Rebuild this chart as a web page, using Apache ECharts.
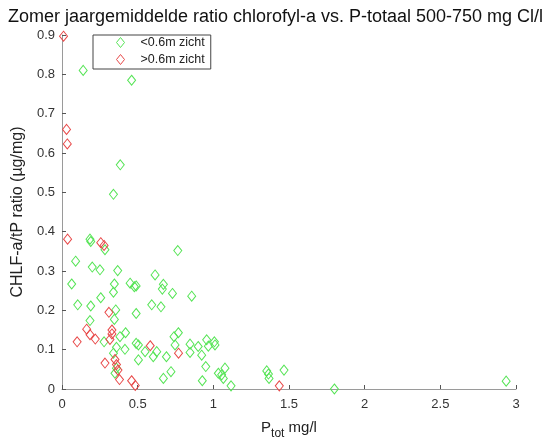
<!DOCTYPE html>
<html>
<head>
<meta charset="utf-8">
<script src="https://cdn.jsdelivr.net/npm/echarts@6/dist/echarts.min.js"></script>
<style>
html,body{margin:0;padding:0;background:#fff;}
#c{width:551px;height:437px;}
</style>
</head>
<body>
<div id="c"></div>
<script>
// ---- data ----
const titleText = 'Zomer jaargemiddelde ratio chlorofyl-a vs. P-totaal 500-750 mg Cl/l';
const seriesNames = ['<0.6m zicht', '>0.6m zicht'];
const xTicks = [0, 0.5, 1, 1.5, 2, 2.5, 3];
const yTicks = [0, 0.1, 0.2, 0.3, 0.4, 0.5, 0.6, 0.7, 0.8, 0.9];
const xLabel = 'P_tot mg/l';
const yLabel = 'CHLF-a/tP ratio (µg/mg)';

// <0.6m zicht : [Ptot, ratio]
const greenPts = [
  [0.14,0.81],[0.46,0.785],[0.385,0.57],[0.34,0.495],
  [0.185,0.381],[0.19,0.375],[0.284,0.354],[0.765,0.352],
  [0.09,0.325],[0.2,0.31],[0.251,0.303],[0.368,0.301],[0.615,0.29],
  [0.064,0.267],[0.346,0.267],[0.45,0.269],[0.478,0.26],[0.49,0.262],[0.67,0.266],[0.663,0.254],
  [0.73,0.243],[0.34,0.246],[0.857,0.236],[0.256,0.232],
  [0.104,0.214],[0.19,0.211],[0.355,0.201],[0.49,0.192],[0.593,0.214],[0.654,0.209],
  [0.185,0.174],[0.346,0.177],[0.42,0.143],[0.383,0.133],[0.278,0.12],[0.36,0.106],[0.416,0.101],
  [0.49,0.116],[0.505,0.112],[0.549,0.095],
  [0.74,0.133],[0.769,0.143],[0.603,0.082],[0.626,0.095],[0.69,0.082],[0.747,0.112],[0.846,0.114],
  [0.846,0.093],[0.9,0.108],[0.923,0.086],[0.956,0.125],[0.967,0.109],[1.007,0.12],[1.011,0.112],
  [0.34,0.091],[0.36,0.053],[0.35,0.04],[0.505,0.074],[0.67,0.027],[0.72,0.044],[0.95,0.057],
  [0.927,0.021],[1.033,0.04],[1.077,0.053],[1.055,0.036],[1.066,0.027],[1.117,0.008],
  [1.353,0.046],[1.364,0.038],[1.368,0.027],[1.467,0.048],[1.8,0.0],[2.935,0.02]
];
// >0.6m zicht : [Ptot, ratio]
const redPts = [
  [0.01,0.897],[0.03,0.66],[0.035,0.623],[0.037,0.381],[0.256,0.372],[0.278,0.365],
  [0.31,0.195],[0.33,0.15],[0.33,0.14],[0.163,0.152],[0.185,0.138],[0.22,0.127],[0.1,0.12],
  [0.317,0.126],[0.284,0.066],[0.35,0.075],[0.36,0.062],[0.37,0.048],[0.38,0.024],
  [0.46,0.021],[0.484,0.009],[0.583,0.11],[0.77,0.091],[1.436,0.008]
];

// ---- chart ----
const chart = echarts.init(document.getElementById('c'), null, {renderer:'canvas'});
const axisCol = '#9a9a9a';
const labCol = '#333';
const font = 'Liberation Sans, Arial, Helvetica, sans-serif';
const xParts = xLabel.split('_');
const sub = xParts[1].split(' ');

chart.setOption({
  animation: false,
  backgroundColor: '#fff',
  textStyle: {fontFamily: font},
  title: {
    text: titleText,
    left: 'center',
    top: 3,
    textStyle: {fontSize: 18, fontWeight: 'normal', color: '#111', fontFamily: font}
  },
  legend: {
    orient: 'vertical',
    left: 93,
    top: 35,
    padding: [0, 6, 2, 21],
    itemGap: 2,
    itemWidth: 8,
    itemHeight: 10,
    borderColor: '#444',
    borderWidth: 1,
    backgroundColor: '#fff',
    textStyle: {fontSize: 12.5, color: '#222', padding: [0, 0, 0, 11], lineHeight: 14},
    data: [
      {name: seriesNames[0], icon: 'diamond', itemStyle: {color: 'none', borderColor: '#55e455', borderWidth: 1}},
      {name: seriesNames[1], icon: 'diamond', itemStyle: {color: 'none', borderColor: '#e84848', borderWidth: 1}}
    ]
  },
  grid: {left: 62, right: 35, top: 35, bottom: 48, containLabel: false, outerBoundsMode: 'none'},
  xAxis: {
    type: 'value',
    min: xTicks[0],
    max: xTicks[xTicks.length - 1],
    interval: xTicks[1] - xTicks[0],
    name: '{p|' + xParts[0] + '}{s|' + sub[0] + '}{p| ' + sub.slice(1).join(' ') + '}',
    nameLocation: 'middle',
    nameGap: 26,
    nameTextStyle: {
      rich: {
        p: {fontSize: 15, color: '#222', fontFamily: font},
        s: {fontSize: 12, color: '#222', fontFamily: font, padding: [13, 0, 0, 0]}
      }
    },
    axisLine: {show: true, onZero: false, lineStyle: {color: axisCol, width: 1}},
    axisTick: {show: true, inside: true, length: 4, lineStyle: {color: '#555'}},
    axisLabel: {fontSize: 13, color: labCol, margin: 9},
    splitLine: {show: false}
  },
  yAxis: {
    type: 'value',
    min: yTicks[0],
    max: yTicks[yTicks.length - 1],
    interval: 0.1,
    name: yLabel,
    nameLocation: 'middle',
    nameGap: 31,
    nameTextStyle: {fontSize: 16, color: '#222'},
    axisLine: {show: true, onZero: false, lineStyle: {color: axisCol, width: 1}},
    axisTick: {show: true, inside: true, length: 4, lineStyle: {color: '#555'}},
    axisLabel: {fontSize: 13, color: labCol, margin: 7,
      formatter: v => (Math.round(v * 10) / 10).toString()},
    splitLine: {show: false}
  },
  series: [
    {
      name: seriesNames[0],
      type: 'scatter',
      symbol: 'diamond',
      symbolSize: [8, 10],
      itemStyle: {color: 'none', borderColor: '#55e455', borderWidth: 1, opacity: 1},
      data: greenPts,
      z: 2
    },
    {
      name: seriesNames[1],
      type: 'scatter',
      symbol: 'diamond',
      symbolSize: [8, 10],
      itemStyle: {color: 'none', borderColor: '#e84848', borderWidth: 1, opacity: 1},
      data: redPts,
      z: 3
    }
  ]
});
</script>
</body>
</html>
